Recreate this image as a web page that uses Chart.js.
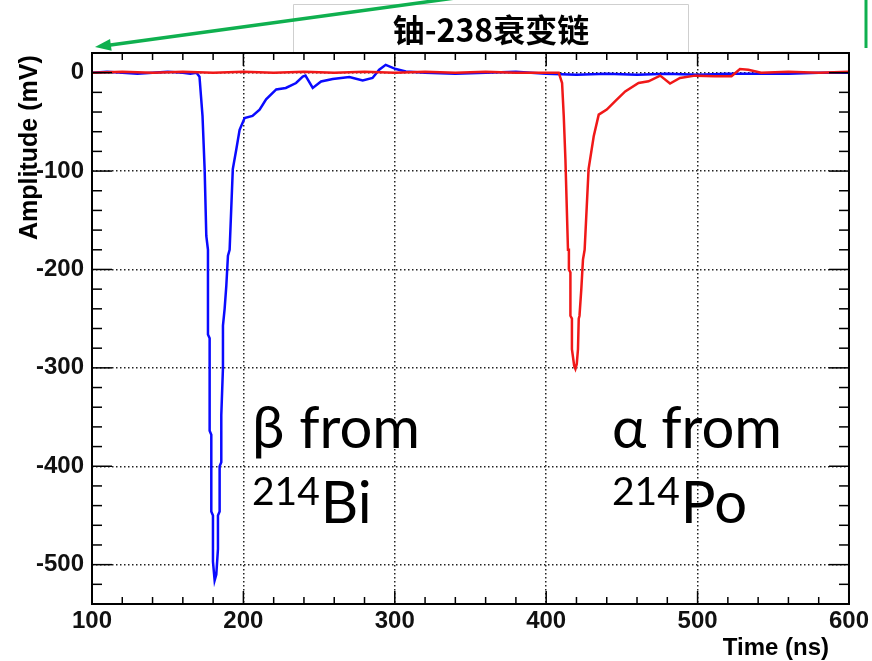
<!DOCTYPE html>
<html>
<head>
<meta charset="utf-8">
<script src="https://cdn.jsdelivr.net/npm/chart.js@4"></script>
<style>
  html, body { margin: 0; padding: 0; background: #fff; }
  #wrap { width: 872px; height: 661px; }
</style>
</head>
<body>
<div id="wrap"><canvas id="pulseChart" width="872" height="661"></canvas></div>
<script>
// beta pulse from 214Bi (blue)
const blueTime = [100, 110, 120, 130, 140, 150, 160, 165, 169, 171, 172, 173, 174.4, 175.5,
  176.6, 176.6, 177.7, 177.7, 178.8, 178.8, 179.9, 179.9, 181, 182.1, 183.2, 183.2, 184.3, 184.3,
  185.4, 185.4, 186.5, 186.5, 187.6, 188.7, 189.8, 190.9, 193, 195.3, 197.5, 200.8, 206, 210.7,
  215, 221.7, 228, 234.8, 239.2, 241, 245.8, 251.3, 259, 270, 278.8, 285.3, 289.7, 294, 300.7,
  307.3, 320, 340, 360, 380, 400, 420, 440, 460, 480, 500, 520, 540, 560, 580, 600];
const blueAmp = [0, 1, 0, -1, 0, 1, 0, -1, 0, -4, -24, -44, -98, -166,
  -180, -266, -270, -364, -368, -446, -450, -497, -516, -510, -484, -450, -446, -400,
  -396, -348, -300, -257, -240, -217, -186, -180, -98, -78, -58, -46, -44, -37.5,
  -27, -17, -15.5, -10.5, -4, -3, -15.5, -9, -6.4, -4.4, -7.8, -5.4, 3, 8, 3.7,
  1.3, 0, -1, 0, 1, -1, -2, -1, -2, -1, -2, -1, -1, -1, 0, 0];

// alpha pulse from 214Po (red)
const redTime = [100, 120, 140, 160, 180, 200, 220, 240, 260, 280, 300, 320, 340, 360, 380, 400,
  408.3, 410.5, 411.6, 412.7, 414.4, 415, 415, 416, 416, 417, 417, 418.5, 419.3, 420.2, 421,
  421.5, 422, 423.2, 424.3, 425.4, 428, 431.4, 434.7, 440, 445.6, 452.2, 461, 467.6, 475.3,
  481.8, 488.4, 498.3, 511.5, 522.4, 528, 533.5, 542, 560, 580, 600];
const redAmp = [0, 1, 0, 1, 0, 1, 0, 1, 0, 1, 0, 1, 0, 1, 0, 0,
  0, -10.5, -44, -88, -180, -180, -200, -203, -247, -250, -281, -298, -301, -296, -281,
  -250, -247, -220, -190, -180, -98, -64.6, -42.6, -37.5, -29, -19, -10.5, -8.8, -3,
  -11, -5.4, -3, -3.7, -3.7, 3.7, 3, 0, 1, 0, 1];

const xTicks = [100, 200, 300, 400, 500, 600];
const xTickLabels = ['100', '200', '300', '400', '500', '600'];
const yTicks = [-500, -400, -300, -200, -100, 0];
const yTickLabels = ['-500', '-400', '-300', '-200', '-100', '0'];

const chartTitle = '铀-238衰变链';
const xTitle = 'Time (ns)';
const yTitle = 'Amplitude (mV)';

const axisFont = { family: 'Liberation Sans', weight: 'bold', size: 24 };

const toPoints = (ts, vs) => ts.map((t, i) => ({ x: t, y: vs[i] }));

// frame, inside ticks (ROOT style), titles, notes and the green arrow
const decor = {
  id: 'decor',
  afterDraw(chart) {
    const { ctx, chartArea: a, scales: { x, y } } = chart;
    const seg = (x1, y1, x2, y2) => {
      ctx.beginPath(); ctx.moveTo(x1, y1); ctx.lineTo(x2, y2); ctx.stroke();
    };
    ctx.save();
    ctx.strokeStyle = '#000';
    ctx.lineWidth = 1.5;
    for (let v = x.min; v <= x.max; v += 20) {
      const px = x.getPixelForValue(v);
      const len = v % 100 === 0 ? 13 : 7;
      seg(px, a.bottom, px, a.bottom - len);
      seg(px, a.top, px, a.top + len);
    }
    for (let v = y.min; v <= y.max; v += 20) {
      const py = y.getPixelForValue(v);
      const len = v % 100 === 0 ? 20 : 10;
      seg(a.left, py, a.left + len, py);
      seg(a.right, py, a.right - len, py);
    }
    ctx.lineWidth = 2;
    ctx.strokeRect(a.left, a.top, a.right - a.left, a.bottom - a.top);

    // axis titles
    ctx.fillStyle = '#000';
    ctx.font = 'bold 24px "Liberation Sans"';
    ctx.textAlign = 'right';
    ctx.textBaseline = 'alphabetic';
    ctx.fillText(xTitle, 829, 655);
    ctx.save();
    ctx.translate(37, 240);
    ctx.rotate(-Math.PI / 2);
    ctx.textAlign = 'left';
    ctx.font = 'bold 25px "Liberation Sans"';
    ctx.fillText(yTitle, 0, 0);
    ctx.restore();

    // title box
    ctx.fillStyle = '#fff';
    ctx.fillRect(293, 4, 396, a.top - 5);
    ctx.strokeStyle = '#cfcfcf';
    ctx.lineWidth = 1;
    ctx.beginPath();
    ctx.moveTo(293.5, a.top - 1); ctx.lineTo(293.5, 4.5);
    ctx.lineTo(688.5, 4.5); ctx.lineTo(688.5, a.top - 1);
    ctx.stroke();
    ctx.fillStyle = '#000';
    ctx.font = 'bold 32px "Noto Sans CJK SC"';
    ctx.textAlign = 'center';
    ctx.fillText(chartTitle, 491, 42);

    // notes
    const note = (x0, line1, sup, sym) => {
      ctx.textAlign = 'left';
      ctx.font = '58px Lato';
      ctx.fillText(line1, x0, 448);
      ctx.font = '39px Lato';
      ctx.fillText(sup, x0, 505);
      const w = ctx.measureText(sup).width;
      ctx.font = '58px Lato';
      ctx.fillText(sym, x0 + w + 1, 523);
    };
    note(252, 'β from', '214', 'Bi');
    note(612, 'α from', '214', 'Po');

    // green arrow
    ctx.strokeStyle = '#0fb04f';
    ctx.fillStyle = '#0fb04f';
    ctx.lineWidth = 3.5;
    const sx = 455, sy = -2, tx = 95, ty = 47;
    const ang = Math.atan2(ty - sy, tx - sx);
    seg(sx, sy, tx - 10 * Math.cos(ang), ty - 10 * Math.sin(ang));
    ctx.beginPath();
    ctx.moveTo(tx, ty);
    ctx.lineTo(tx - 16 * Math.cos(ang) + 6 * Math.sin(ang), ty - 16 * Math.sin(ang) - 6 * Math.cos(ang));
    ctx.lineTo(tx - 16 * Math.cos(ang) - 6 * Math.sin(ang), ty - 16 * Math.sin(ang) + 6 * Math.cos(ang));
    ctx.closePath();
    ctx.fill();
    ctx.lineWidth = 3;
    seg(866, 0, 866, 48);
    ctx.restore();
  }
};

const gridStyle = {
  color: '#222',
  lineWidth: 1.5,
  drawTicks: false
};

new Chart(document.getElementById('pulseChart'), {
  type: 'line',
  data: {
    datasets: [{
      label: '214Bi',
      data: toPoints(blueTime, blueAmp),
      borderColor: '#0a0aff',
      borderWidth: 2.5,
      pointRadius: 0,
      tension: 0,
      order: 2
    }, {
      label: '214Po',
      data: toPoints(redTime, redAmp),
      borderColor: '#f01818',
      borderWidth: 2.5,
      pointRadius: 0,
      tension: 0,
      order: 1
    }]
  },
  options: {
    responsive: false,
    devicePixelRatio: 1,
    animation: false,
    events: [],
    layout: { padding: { top: 53, right: 21, bottom: 0, left: 0 } },
    plugins: { legend: { display: false }, tooltip: { enabled: false } },
    scales: {
      x: {
        type: 'linear',
        min: 100,
        max: 600,
        afterBuildTicks: s => { s.ticks = xTicks.map(v => ({ value: v })); },
        afterFit: s => { s.height = 57; },
        ticks: {
          callback: (v, i) => xTickLabels[i],
          font: axisFont,
          color: '#111',
          padding: 3,
          maxRotation: 0
        },
        grid: gridStyle,
        border: { display: false, dash: [1.5, 2.5] }
      },
      y: {
        type: 'linear',
        min: -540,
        max: 20,
        afterBuildTicks: s => { s.ticks = yTicks.map(v => ({ value: v })); },
        afterFit: s => { s.width = 92; },
        ticks: {
          callback: (v, i) => yTickLabels[i],
          font: axisFont,
          color: '#111',
          padding: 8
        },
        grid: gridStyle,
        border: { display: false, dash: [1.5, 2.5] }
      }
    }
  },
  plugins: [decor]
});
</script>
</body>
</html>
